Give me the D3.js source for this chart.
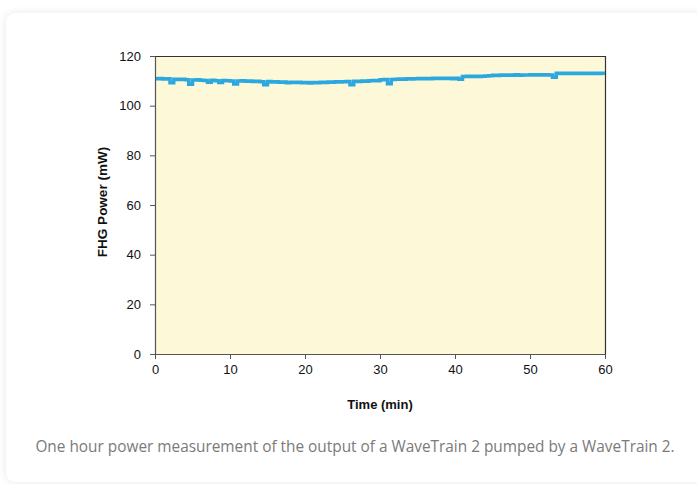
<!DOCTYPE html>
<html>
<head>
<meta charset="utf-8">
<script src="https://cdn.jsdelivr.net/npm/d3@7"></script>
<style>
  html, body { margin: 0; padding: 0; background: #ffffff; width: 697px; height: 484px; overflow: hidden; }
  #card { position: absolute; left: 6px; top: 13px; width: 720px; height: 469px; background: #fff;
          border-radius: 9px; box-shadow: 0 0 8px rgba(0,0,0,0.10); }
  svg { position: absolute; left: 0; top: 0; }
</style>
</head>
<body>
<div id="card"></div>
<svg id="chart" width="697" height="484"></svg>
<script>
// ---- data ----
const timeMin = d3.range(0, 60.5, 0.5);
const powerMW = [
  110.8, 110.9, 110.7, 110.8, 109.2, 110.6, 110.5, 110.6, 110.4, 108.6,
  110.3, 110.4, 110.2, 110.1, 109.4, 110.2, 110.0, 109.3, 110.1, 110.0,
  109.9, 108.7, 109.9, 110.0, 109.8, 109.9, 109.7, 109.8, 109.6, 108.4,
  109.7, 109.5, 109.6, 109.4, 109.5, 109.2, 109.4, 109.3, 109.4, 109.2,
  109.3, 109.1, 109.3, 109.2, 109.4, 109.3, 109.5, 109.4, 109.6, 109.5,
  109.6, 109.7, 108.4, 109.8, 109.7, 109.9, 109.8, 110.0, 110.1, 110.0,
  110.4, 110.5, 108.8, 110.5, 110.6, 110.7, 110.6, 110.8, 110.7, 110.8,
  110.9, 110.8, 110.9, 110.8, 111.0, 110.9, 111.0, 110.9, 111.0, 110.8,
  111.0, 110.6, 111.7, 111.8, 111.7, 111.8, 111.7, 111.8, 111.9, 112.0,
  112.2, 112.1, 112.3, 112.2, 112.3, 112.2, 112.4, 112.2, 112.3, 112.3,
  112.4, 112.3, 112.4, 112.3, 112.4, 112.3, 111.4, 113.1, 113.0, 113.1,
  113.0, 113.1, 113.0, 113.1, 113.0, 113.1, 113.0, 113.1, 113.0, 113.1,
  113.1
];
const xTicks = [0, 10, 20, 30, 40, 50, 60];
const yTicks = [0, 20, 40, 60, 80, 100, 120];
const xLabel = "Time (min)";
const yLabel = "FHG Power (mW)";
const caption = "One hour power measurement of the output of a WaveTrain 2 pumped by a WaveTrain 2.";

// ---- layout ----
const L = 155, R = 605, T = 56, B = 354;
const svg = d3.select("#chart");
const x = d3.scaleLinear().domain([0, 60]).range([L, R]);
const y = d3.scaleLinear().domain([0, 120]).range([B, T]);

// plot background
svg.append("rect").attr("x", L).attr("y", T).attr("width", R - L).attr("height", B - T)
  .attr("fill", "#fdf8d7");

// top & right frame
svg.append("path").attr("d", `M${L},${T + 0.5}H${R + 0.5}V${B}`)
  .attr("fill", "none").attr("stroke", "#333").attr("stroke-width", 1.2);

// line
const data = timeMin.map((t, i) => ({ t, v: powerMW[i] }));
svg.append("path").datum(data)
  .attr("fill", "none").attr("stroke", "#2ba8df").attr("stroke-width", 3.5)
  .attr("d", d3.line().x(d => x(d.t)).y(d => y(d.v)).curve(d3.curveStepAfter));

// axes
const fontFam = "'Liberation Sans', Arial, sans-serif";
const gx = svg.append("g").attr("transform", `translate(0,${B})`)
  .call(d3.axisBottom(x).tickValues(xTicks).tickSize(5).tickPadding(6).tickSizeOuter(0));
const gy = svg.append("g").attr("transform", `translate(${L},0)`)
  .call(d3.axisLeft(y).tickValues(yTicks).tickSize(5).tickPadding(9).tickSizeOuter(0));
[gx, gy].forEach(g => {
  g.selectAll("path.domain").attr("stroke", "#555").attr("stroke-width", 1.2);
  g.selectAll(".tick line").attr("stroke", "#555");
  g.selectAll("text").attr("font-family", fontFam).attr("font-size", 13).attr("fill", "#111");
});

// axis titles
svg.append("text").attr("x", (L + R) / 2).attr("y", 409).attr("text-anchor", "middle")
  .attr("font-family", fontFam).attr("font-size", 13).attr("font-weight", "bold").attr("fill", "#111")
  .text(xLabel);
svg.append("text").attr("transform", `translate(107,202) rotate(-90)`)
  .attr("text-anchor", "middle")
  .attr("font-family", fontFam).attr("font-size", 13.5).attr("font-weight", "bold").attr("fill", "#111")
  .text(yLabel);

// caption: fit a natural font size to the reference width (no glyph squashing)
const cap = svg.append("text").attr("x", 355).attr("y", 452).attr("text-anchor", "middle")
  .attr("font-family", "'Liberation Sans Narrow', 'Open Sans', sans-serif")
  .attr("font-size", 16).attr("fill", "#7a7a7a")
  .text(caption);
const w = cap.node().getComputedTextLength();
if (w > 0) cap.attr("font-size", Math.min(18, 16 * 640 / w));
</script>
</body>
</html>
